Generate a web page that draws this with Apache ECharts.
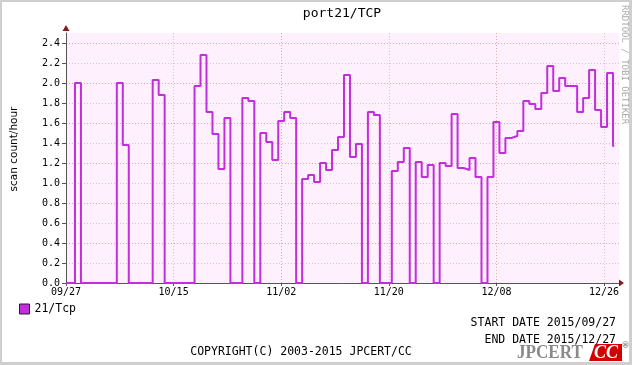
<!DOCTYPE html>
<html>
<head>
<meta charset="utf-8">
<script src="https://cdn.jsdelivr.net/npm/echarts@6/dist/echarts.min.js"></script>
<style>
  html, body { margin: 0; padding: 0; background: #ffffff; }
  #wrap { position: relative; width: 632px; height: 365px; }
  #chart { width: 632px; height: 365px; }
  #frame { position: absolute; left: 0; top: 0; width: 632px; height: 365px; box-sizing: border-box;
           border: 3px solid #cfcfcf; border-top-width: 2px; border-left-width: 2px; pointer-events: none; }
</style>
</head>
<body>
<div id="wrap"><div id="chart"></div><div id="frame"></div></div>
<script>
// scan counts per hour, one value per day (first bin starts 1.5 days after the axis start)
var startDate = [2015, 8, 27];
var firstBin = 1.5;
var lastEdge = 91.7;
var counts = [
  2.00, 0, 0, 0, 0, 0, 0, 2.00, 1.38, 0,
  0, 0, 0, 2.03, 1.88, 0, 0, 0, 0, 0,
  1.97, 2.28, 1.71, 1.49, 1.14, 1.65, 0, 0, 1.85, 1.82,
  0, 1.50, 1.41, 1.23, 1.62, 1.71, 1.65, 0, 1.04, 1.08,
  1.01, 1.20, 1.13, 1.33, 1.46, 2.08, 1.26, 1.39, 0, 1.71,
  1.68, 0, 0, 1.12, 1.21, 1.35, 0, 1.21, 1.06, 1.18,
  0, 1.20, 1.17, 1.69, 1.15, 1.13, 1.25, 1.06, 0, 1.06,
  1.61, 1.30, 1.45, 1.47, 1.52, 1.82, 1.79, 1.74, 1.90, 2.17,
  1.92, 2.05, 1.97, 1.97, 1.71, 1.85, 2.13, 1.73, 1.56, 2.10,
  1.37
];
var xLabelDays = [0, 18, 36, 54, 72, 90];
var yLabelValues = [0, 0.2, 0.4, 0.6, 0.8, 1.0, 1.2, 1.4, 1.6, 1.8, 2.0, 2.2, 2.4];
var seriesName = '21/Tcp';

var MONO = 'DejaVu Sans Mono';
var majorGrid = '#e3a6a6';
var minorGrid = '#d9c3cf';
var lineColor = '#c22edc';

function dayLabel(d) {
  var t = new Date(Date.UTC(startDate[0], startDate[1], startDate[2]) + Math.round(d) * 86400000);
  var m = t.getUTCMonth() + 1, dd = t.getUTCDate();
  return (m < 10 ? '0' : '') + m + '/' + (dd < 10 ? '0' : '') + dd;
}

var points = [[0, 0]];
counts.forEach(function (v, i) { points.push([firstBin + i, v]); });
points.push([lastEdge, counts[counts.length - 1]]);

var chart = echarts.init(document.getElementById('chart'));

var option = {
  animation: false,
  backgroundColor: '#ffffff',
  grid: {
    left: 66, right: 13, top: 33, bottom: 82,
    containLabel: false, outerBoundsMode: 'none',
    show: true, backgroundColor: '#fff0fd', borderWidth: 0
  },
  legend: {
    data: [{ name: seriesName, icon: 'rect' }],
    left: 14, top: 298,
    itemWidth: 10, itemHeight: 10, itemGap: 6,
    itemStyle: { color: lineColor, borderColor: '#222222', borderWidth: 1 },
    textStyle: { fontFamily: MONO, fontSize: 11.5, color: '#000000' }
  },
  xAxis: {
    type: 'value',
    min: 0, max: 92.5, interval: 9,
    axisLine: { show: true, lineStyle: { color: '#555555', width: 1 } },
    axisTick: { show: true, length: 3, customValues: xLabelDays, lineStyle: { color: '#555555' } },
    axisLabel: {
      customValues: xLabelDays,
      fontFamily: MONO, fontSize: 10, color: '#000000', margin: 4,
      formatter: function (v) { return dayLabel(v); }
    },
    splitLine: { show: true, lineStyle: { color: [majorGrid, minorGrid], type: [1, 2], width: 1 } }
  },
  yAxis: {
    type: 'value',
    min: 0, max: 2.5, interval: 0.1,
    axisLine: { show: true, lineStyle: { color: '#555555', width: 1 } },
    axisTick: { show: true, length: 4, customValues: yLabelValues, lineStyle: { color: '#555555' } },
    axisLabel: {
      customValues: yLabelValues,
      fontFamily: MONO, fontSize: 10, color: '#000000', margin: 6,
      formatter: function (v) { return v.toFixed(1); }
    },
    splitLine: { show: true, lineStyle: { color: [majorGrid, minorGrid], type: [1, 2], width: 1 } }
  },
  series: [{
    name: seriesName,
    type: 'line',
    step: 'end',
    data: points,
    showSymbol: false,
    clip: false,
    itemStyle: { color: lineColor },
    lineStyle: { color: lineColor, width: 2 },
    z: 5
  }],
  graphic: [
    { type: 'text', x: 342, y: 14,
      style: { text: 'port21/TCP', fontFamily: MONO, fontSize: 13, fill: '#000000', align: 'center', verticalAlign: 'middle' } },
    { type: 'text', x: 14, y: 149, rotation: Math.PI / 2,
      style: { text: 'scan count/hour', fontFamily: 'DejaVu Sans', fontSize: 10.5, fill: '#000000', align: 'center', verticalAlign: 'middle' } },
    { type: 'text', x: 624, y: 5, rotation: -Math.PI / 2,
      style: { text: 'RRDTOOL / TOBI OETIKER', fontFamily: MONO, fontSize: 9, fill: '#aaaaaa', align: 'left', verticalAlign: 'middle' } },
    // axis arrows
    { type: 'polygon', z: 10, shape: { points: [[62.5, 31], [69.5, 31], [66, 25]] }, style: { fill: '#8b1a1a' } },
    { type: 'polygon', z: 10, shape: { points: [[619, 279.5], [619, 286.5], [624, 283]] }, style: { fill: '#8b1a1a' } },
    // footer
    { type: 'text', x: 616, y: 323,
      style: { text: 'START DATE 2015/09/27', fontFamily: MONO, fontSize: 11.5, fill: '#000000', align: 'right', verticalAlign: 'middle' } },
    { type: 'text', x: 616, y: 340,
      style: { text: 'END DATE 2015/12/27', fontFamily: MONO, fontSize: 11.5, fill: '#000000', align: 'right', verticalAlign: 'middle' } },
    { type: 'text', x: 301, y: 352,
      style: { text: 'COPYRIGHT(C) 2003-2015 JPCERT/CC', fontFamily: MONO, fontSize: 11.5, fill: '#000000', align: 'center', verticalAlign: 'middle' } },
    // JPCERT/CC logo
    { type: 'text', x: 517, y: 353, scaleX: 0.9,
      style: { text: 'JPCERT', fontFamily: 'Liberation Serif', fontWeight: 'bold', fontSize: 19, fill: '#8a8a8a', align: 'left', verticalAlign: 'middle' } },
    { type: 'polygon', shape: { points: [[595, 344], [622, 344], [622, 361], [589, 361]] }, style: { fill: '#d40000' } },
    { type: 'text', x: 606, y: 353,
      style: { text: 'CC', fontFamily: 'Liberation Serif', fontWeight: 'bold', fontStyle: 'italic', fontSize: 18, fill: '#ffffff', align: 'center', verticalAlign: 'middle' } },
    { type: 'text', x: 625.5, y: 346,
      style: { text: '\u00ae', fontFamily: 'DejaVu Sans', fontWeight: 'bold', fontSize: 8, fill: '#777777', align: 'center', verticalAlign: 'middle' } }
  ]
};

chart.setOption(option);
</script>
</body>
</html>
